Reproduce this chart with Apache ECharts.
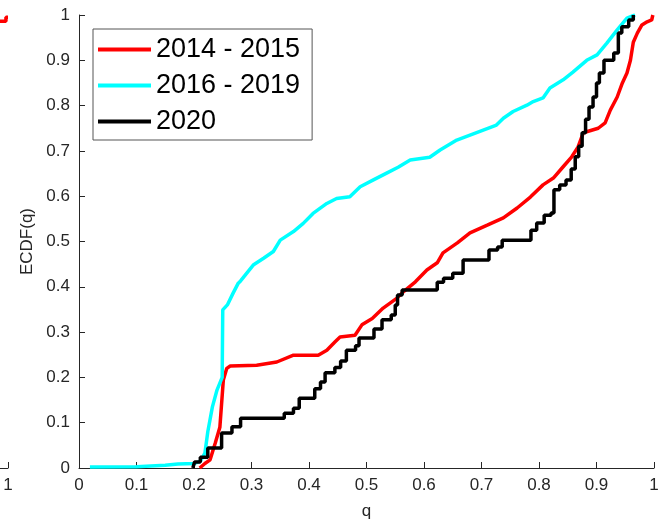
<!DOCTYPE html>
<html>
<head>
<meta charset="utf-8">
<script src="https://cdn.jsdelivr.net/npm/echarts@6/dist/echarts.min.js"></script>
<style>
  html, body { margin: 0; padding: 0; background: #fff; }
  #chart { width: 671px; height: 525px; }
</style>
</head>
<body>
<div id="chart"></div>
<script>
  // ECDF points: [q, F(q)]
  var seriesNames = ['2014 - 2015', '2016 - 2019', '2020'];
  var seriesColors = ['#ff0000', '#00ffff', '#000000'];

  var red1415 = [
    [0.210, 0.0], [0.219, 0.010], [0.228, 0.018], [0.237, 0.055], [0.245, 0.090],
    [0.251, 0.194], [0.257, 0.220], [0.263, 0.225], [0.309, 0.227], [0.344, 0.234],
    [0.373, 0.249], [0.416, 0.249], [0.431, 0.260], [0.445, 0.278], [0.454, 0.289],
    [0.480, 0.293], [0.492, 0.316], [0.510, 0.330], [0.529, 0.353], [0.553, 0.375],
    [0.564, 0.389], [0.585, 0.411], [0.605, 0.437], [0.623, 0.453], [0.633, 0.475],
    [0.658, 0.497], [0.680, 0.519], [0.710, 0.536], [0.738, 0.552], [0.762, 0.574],
    [0.785, 0.598], [0.807, 0.625], [0.825, 0.640], [0.842, 0.665], [0.857, 0.687],
    [0.868, 0.709], [0.877, 0.740], [0.903, 0.750], [0.915, 0.762], [0.924, 0.790],
    [0.936, 0.819], [0.945, 0.850], [0.953, 0.872], [0.959, 0.900], [0.964, 0.940],
    [0.971, 0.960], [0.979, 0.978], [0.988, 0.985], [0.996, 0.989], [0.998, 1.0]
  ];

  var cyan1619 = [
    [0.019, 0.002], [0.100, 0.003], [0.150, 0.006], [0.172, 0.009], [0.201, 0.010],
    [0.211, 0.015], [0.219, 0.033], [0.224, 0.080], [0.232, 0.135], [0.240, 0.172],
    [0.249, 0.200], [0.250, 0.349], [0.258, 0.360], [0.268, 0.386], [0.277, 0.408],
    [0.281, 0.413], [0.303, 0.448], [0.321, 0.463], [0.338, 0.478], [0.350, 0.503],
    [0.373, 0.522], [0.390, 0.540], [0.407, 0.562], [0.431, 0.584], [0.448, 0.595],
    [0.471, 0.599], [0.489, 0.621], [0.512, 0.636], [0.535, 0.651], [0.555, 0.664],
    [0.576, 0.680], [0.610, 0.686], [0.628, 0.702], [0.657, 0.724], [0.680, 0.735],
    [0.703, 0.746], [0.726, 0.757], [0.738, 0.772], [0.755, 0.787], [0.779, 0.801],
    [0.790, 0.809], [0.807, 0.817], [0.819, 0.839], [0.842, 0.857], [0.859, 0.874],
    [0.883, 0.900], [0.901, 0.912], [0.918, 0.938], [0.936, 0.967], [0.953, 0.993],
    [0.967, 1.0]
  ];

  // jump points (q, F after jump), drawn as stairs
  var black2020 = [
    [0.198, 0.0], [0.201, 0.013], [0.211, 0.024], [0.224, 0.044], [0.248, 0.077],
    [0.266, 0.091], [0.281, 0.110], [0.357, 0.121], [0.373, 0.132], [0.383, 0.154],
    [0.410, 0.175], [0.420, 0.190], [0.428, 0.210], [0.445, 0.222], [0.455, 0.236],
    [0.465, 0.260], [0.481, 0.270], [0.487, 0.287], [0.513, 0.307], [0.527, 0.327],
    [0.543, 0.338], [0.550, 0.360], [0.554, 0.382], [0.562, 0.393], [0.623, 0.410],
    [0.634, 0.419], [0.650, 0.430], [0.668, 0.459], [0.713, 0.481], [0.728, 0.488],
    [0.736, 0.503], [0.786, 0.525], [0.796, 0.541], [0.809, 0.558], [0.821, 0.563],
    [0.826, 0.614], [0.836, 0.625], [0.847, 0.636], [0.856, 0.660], [0.863, 0.687],
    [0.869, 0.710], [0.875, 0.740], [0.881, 0.770], [0.887, 0.797], [0.894, 0.819],
    [0.900, 0.850], [0.905, 0.872], [0.913, 0.900], [0.930, 0.916], [0.938, 0.960],
    [0.944, 0.974], [0.956, 0.989], [0.964, 1.0]
  ];

  // tail of the neighbouring panel, cut off at the left edge
  var redLeftPanel = [[0.980, 0.986], [0.9964, 0.986], [0.9964, 0.995], [1.0, 0.995]];

  var xTicks = ['0', '0.1', '0.2', '0.3', '0.4', '0.5', '0.6', '0.7', '0.8', '0.9', '1'];
  var yTicks = ['0', '0.1', '0.2', '0.3', '0.4', '0.5', '0.6', '0.7', '0.8', '0.9', '1'];

  var axisColor = '#262626';
  var font = '"Liberation Sans", Arial, Helvetica, sans-serif';

  var chart = echarts.init(document.getElementById('chart'), null, { renderer: 'canvas' });

  var option = {
    animation: false,
    backgroundColor: '#fff',
    textStyle: { fontFamily: font },
    grid: [
      { left: 79, top: 15, width: 575, height: 453, containLabel: false },
      { left: 0, top: 15, width: 8, height: 453, containLabel: false }
    ],
    legend: {
      left: 93, top: 29,
      orient: 'vertical',
      data: seriesNames,
      icon: 'rect',
      itemWidth: 53, itemHeight: 4, itemGap: 9,
      padding: [7, 12, 5, 5],
      borderColor: '#555', borderWidth: 1, backgroundColor: '#fff',
      textStyle: { fontSize: 27, color: '#000', fontFamily: font }
    },
    xAxis: [
      {
        gridIndex: 0, type: 'value', min: 0, max: 1, interval: 0.1,
        name: 'q', nameLocation: 'middle', nameGap: 35,
        nameTextStyle: { fontSize: 17, color: axisColor, fontFamily: font },
        axisLine: { lineStyle: { color: axisColor, width: 1 } },
        axisTick: { inside: true, length: 6, lineStyle: { color: axisColor } },
        axisLabel: {
          fontSize: 17, color: axisColor, margin: 9, fontFamily: font,
          formatter: function (v) { return xTicks[Math.round(v * 10)]; }
        },
        splitLine: { show: false }
      },
      {
        gridIndex: 1, type: 'value', min: 0.986, max: 1,
        axisLine: { lineStyle: { color: axisColor, width: 1 } },
        axisTick: { inside: true, length: 6, customValues: [1], lineStyle: { color: axisColor } },
        axisLabel: {
          fontSize: 17, color: axisColor, margin: 9, fontFamily: font,
          customValues: [1], formatter: function () { return '1'; }
        },
        splitLine: { show: false }
      }
    ],
    yAxis: [
      {
        gridIndex: 0, type: 'value', min: 0, max: 1, interval: 0.1,
        name: 'ECDF(q)', nameLocation: 'middle', nameGap: 41,
        nameTextStyle: { fontSize: 17, color: axisColor, fontFamily: font },
        axisLine: { show: true, lineStyle: { color: axisColor, width: 1 } },
        axisTick: { show: true, inside: true, length: 6, lineStyle: { color: axisColor } },
        axisLabel: {
          fontSize: 17, color: axisColor, margin: 9, fontFamily: font,
          formatter: function (v) { return yTicks[Math.round(v * 10)]; }
        },
        splitLine: { show: false }
      },
      { gridIndex: 1, type: 'value', min: 0, max: 1, show: false }
    ],
    series: [
      {
        name: seriesNames[0], type: 'line', xAxisIndex: 0, yAxisIndex: 0,
        data: red1415, showSymbol: false, symbol: 'none',
        itemStyle: { color: seriesColors[0] },
        lineStyle: { color: seriesColors[0], width: 3.5 }, z: 3
      },
      {
        name: seriesNames[1], type: 'line', xAxisIndex: 0, yAxisIndex: 0,
        data: cyan1619, showSymbol: false, symbol: 'none',
        itemStyle: { color: seriesColors[1] },
        lineStyle: { color: seriesColors[1], width: 3.5 }, z: 4
      },
      {
        name: seriesNames[2], type: 'line', xAxisIndex: 0, yAxisIndex: 0,
        data: black2020, step: 'end', showSymbol: false, symbol: 'none',
        itemStyle: { color: seriesColors[2] },
        lineStyle: { color: seriesColors[2], width: 3.5 }, z: 5
      },
      {
        name: 'tail', type: 'line', xAxisIndex: 1, yAxisIndex: 1,
        data: redLeftPanel, showSymbol: false, symbol: 'none', clip: false,
        lineStyle: { color: seriesColors[0], width: 3.5 }
      }
    ]
  };

  chart.setOption(option);
</script>
</body>
</html>
